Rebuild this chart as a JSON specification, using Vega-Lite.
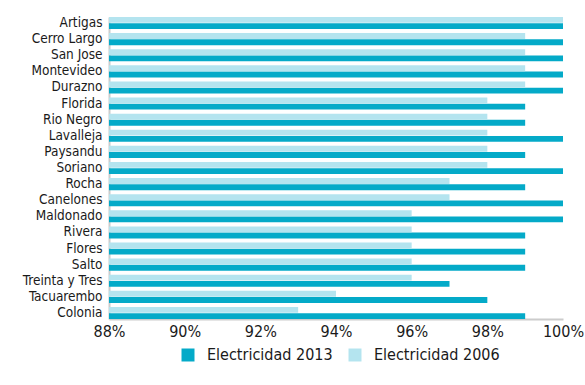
{
  "$schema": "https://vega.github.io/schema/vega-lite/v6.json",
  "width": 454,
  "height": 302,
  "autosize": {"type": "none"},
  "padding": {"left": 109, "top": 17, "right": 22, "bottom": 66},
  "background": "white",
  "config": {
    "font": "DejaVu Sans Condensed",
    "view": {"stroke": null}
  },
  "data": {
    "values": [
      {"depto": "Artigas", "serie": "Electricidad 2013", "valor": 1.00},
      {"depto": "Artigas", "serie": "Electricidad 2006", "valor": 1.00},
      {"depto": "Cerro Largo", "serie": "Electricidad 2013", "valor": 1.00},
      {"depto": "Cerro Largo", "serie": "Electricidad 2006", "valor": 0.99},
      {"depto": "San Jose", "serie": "Electricidad 2013", "valor": 1.00},
      {"depto": "San Jose", "serie": "Electricidad 2006", "valor": 0.99},
      {"depto": "Montevideo", "serie": "Electricidad 2013", "valor": 1.00},
      {"depto": "Montevideo", "serie": "Electricidad 2006", "valor": 0.99},
      {"depto": "Durazno", "serie": "Electricidad 2013", "valor": 1.00},
      {"depto": "Durazno", "serie": "Electricidad 2006", "valor": 0.99},
      {"depto": "Florida", "serie": "Electricidad 2013", "valor": 0.99},
      {"depto": "Florida", "serie": "Electricidad 2006", "valor": 0.98},
      {"depto": "Rio Negro", "serie": "Electricidad 2013", "valor": 0.99},
      {"depto": "Rio Negro", "serie": "Electricidad 2006", "valor": 0.98},
      {"depto": "Lavalleja", "serie": "Electricidad 2013", "valor": 1.00},
      {"depto": "Lavalleja", "serie": "Electricidad 2006", "valor": 0.98},
      {"depto": "Paysandu", "serie": "Electricidad 2013", "valor": 0.99},
      {"depto": "Paysandu", "serie": "Electricidad 2006", "valor": 0.98},
      {"depto": "Soriano", "serie": "Electricidad 2013", "valor": 1.00},
      {"depto": "Soriano", "serie": "Electricidad 2006", "valor": 0.98},
      {"depto": "Rocha", "serie": "Electricidad 2013", "valor": 0.99},
      {"depto": "Rocha", "serie": "Electricidad 2006", "valor": 0.97},
      {"depto": "Canelones", "serie": "Electricidad 2013", "valor": 1.00},
      {"depto": "Canelones", "serie": "Electricidad 2006", "valor": 0.97},
      {"depto": "Maldonado", "serie": "Electricidad 2013", "valor": 1.00},
      {"depto": "Maldonado", "serie": "Electricidad 2006", "valor": 0.96},
      {"depto": "Rivera", "serie": "Electricidad 2013", "valor": 0.99},
      {"depto": "Rivera", "serie": "Electricidad 2006", "valor": 0.96},
      {"depto": "Flores", "serie": "Electricidad 2013", "valor": 0.99},
      {"depto": "Flores", "serie": "Electricidad 2006", "valor": 0.96},
      {"depto": "Salto", "serie": "Electricidad 2013", "valor": 0.99},
      {"depto": "Salto", "serie": "Electricidad 2006", "valor": 0.96},
      {"depto": "Treinta y Tres", "serie": "Electricidad 2013", "valor": 0.97},
      {"depto": "Treinta y Tres", "serie": "Electricidad 2006", "valor": 0.96},
      {"depto": "Tacuarembo", "serie": "Electricidad 2013", "valor": 0.98},
      {"depto": "Tacuarembo", "serie": "Electricidad 2006", "valor": 0.94},
      {"depto": "Colonia", "serie": "Electricidad 2013", "valor": 0.99},
      {"depto": "Colonia", "serie": "Electricidad 2006", "valor": 0.93}
    ]
  },
  "mark": {"type": "bar", "clip": true},
  "encoding": {
    "y": {
      "field": "depto",
      "type": "nominal",
      "sort": null,
      "scale": {"paddingInner": 0.25, "paddingOuter": 0},
      "axis": {
        "title": null,
        "ticks": false,
        "domainColor": "#cccccc",
        "domainWidth": 2,
        "labelFontSize": 13.5,
        "labelColor": "#1a1a1a",
        "labelPadding": 7,
        "labelOffset": 0
      }
    },
    "yOffset": {
      "field": "serie",
      "type": "nominal",
      "sort": ["Electricidad 2006", "Electricidad 2013"],
      "scale": {"paddingInner": 0.06}
    },
    "x": {
      "field": "valor",
      "type": "quantitative",
      "scale": {"domain": [0.88, 1.0], "zero": false, "nice": false},
      "axis": {
        "title": null,
        "format": ".0%",
        "values": [0.88, 0.90, 0.92, 0.94, 0.96, 0.98, 1.0],
        "grid": false,
        "ticks": false,
        "domainColor": "#cccccc",
        "domainWidth": 2,
        "labelFontSize": 16,
        "labelColor": "#1a1a1a",
        "labelPadding": 4,
        "labelFlush": false
      }
    },
    "color": {
      "field": "serie",
      "type": "nominal",
      "sort": ["Electricidad 2013", "Electricidad 2006"],
      "scale": {"range": ["#04aac8", "#b4e4ef"]},
      "legend": {
        "title": null,
        "orient": "none",
        "direction": "horizontal",
        "legendX": 71,
        "legendY": 330,
        "symbolType": "square",
        "symbolSize": 169,
        "symbolStrokeWidth": 0,
        "labelFontSize": 16,
        "labelColor": "#1a1a1a",
        "labelOffset": 11,
        "columnPadding": 14
      }
    }
  }
}
